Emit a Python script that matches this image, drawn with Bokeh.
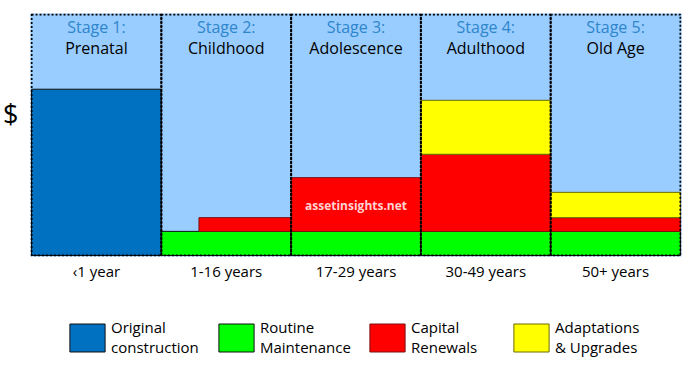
from bokeh.plotting import figure
from bokeh.layouts import column
from bokeh.models import Range1d, FixedTicker, Legend, LegendItem, ColumnDataSource
from bokeh.core.properties import value
from bokeh.embed import file_html
from bokeh.resources import INLINE

# ---- data ----
stage_titles = ["Stage 1:", "Stage 2:", "Stage 3:", "Stage 4:", "Stage 5:"]
stage_names = ["Prenatal", "Childhood", "Adolescence", "Adulthood", "Old Age"]
age_labels = ["\u20391 year", "1-16 years", "17-29 years", "30-49 years", "50+ years"]
original = [69, 0, 0, 0, 0]
routine = [0, 10, 10, 10, 10]
capital = [0, 5.7, 22.3, 32, 5.7]
adaptations = [0, 0, 0, 22.4, 10.5]
capital_start = [0, 0.29, 0, 0, 0]   # fraction of the stage width where the bar begins
y_tick_label = "$"
y_tick_value = 59
watermark = "assetinsights.net"

series_names = ["Original\nconstruction", "Routine\nMaintenance", "Capital\nRenewals", "Adaptations\n& Upgrades"]
fill_colors = ["#0070C0", "#00FF00", "#FF0000", "#FFFF00"]
edge_colors = ["#111111", "#111111", "#7a1010", "#6b6b00"]

n = len(stage_names)
idx = list(range(n))

FONT = "Open Sans"
W = 683
H_MAIN = 300
H_LEG = 73

p = figure(width=W, height=H_MAIN,
           x_range=Range1d(-0.508, n - 0.492), y_range=Range1d(-0.42, 100.42),
           output_backend="svg", toolbar_location=None,
           min_border_left=29, min_border_right=2, min_border_top=13, min_border_bottom=44)
p.background_fill_color = "#99CCFF"
p.outline_line_color = None
p.grid.visible = False

def stack_source(bottoms, heights, starts=None):
    d = dict(left=[], right=[], bottom=[], top=[])
    for i in idx:
        if heights[i] <= 0:
            continue
        s = starts[i] if starts else 0
        d["left"].append(i - 0.5 + s)
        d["right"].append(i + 0.5)
        d["bottom"].append(bottoms[i])
        d["top"].append(bottoms[i] + heights[i])
    return ColumnDataSource(d)

zeros = [0] * n
cap_bottom = [routine[i] for i in idx]
ad_bottom = [routine[i] + capital[i] for i in idx]

sources = []
for k, (bots, hts, st) in enumerate([(zeros, original, None),
                                     (zeros, routine, None),
                                     (cap_bottom, capital, capital_start),
                                     (ad_bottom, adaptations, None)]):
    src = stack_source(bots, hts, st)
    sources.append(src)
    p.quad(left="left", right="right", bottom="bottom", top="top", source=src,
           fill_color=fill_colors[k], line_color=edge_colors[k], line_width=1)

# dotted stage borders
p.quad(left=[i - 0.5 for i in idx], right=[i + 0.5 for i in idx],
       bottom=zeros, top=[100] * n,
       fill_color=None, line_color="black", line_width=2, line_dash="2 2")

# stage titles
p.text(x=idx, y=[100] * n, text=stage_titles, text_font=value(FONT),
       text_font_size=value("16px"), text_color="#2E86CC",
       text_align="center", text_baseline="alphabetic", y_offset=12)
p.text(x=idx, y=[100] * n, text=stage_names, text_font=value(FONT),
       text_font_size=value("16px"), text_color="#000000",
       text_align="center", text_baseline="alphabetic", y_offset=33)

# watermark
p.text(x=[2], y=[20.7], text=[watermark], text_font=value(FONT),
       text_font_size=value("12px"), text_font_style="bold", text_color="#FFD2D2",
       text_align="center", text_baseline="middle")

# axes
p.xaxis.ticker = FixedTicker(ticks=idx)
p.xaxis.major_label_overrides = {i: age_labels[i] for i in idx}
p.xaxis.major_label_text_font = FONT
p.xaxis.major_label_text_font_size = "15px"
p.xaxis.major_label_text_color = "#000000"
p.xaxis.major_label_standoff = 4
p.xaxis.axis_line_color = None
p.xaxis.major_tick_line_color = None
p.xaxis.minor_tick_line_color = None
p.xaxis.major_tick_out = 0
p.xaxis.major_tick_in = 0

p.yaxis.ticker = FixedTicker(ticks=[y_tick_value])
p.yaxis.major_label_overrides = {y_tick_value: y_tick_label}
p.yaxis.major_label_text_font = FONT
p.yaxis.major_label_text_font_size = "27px"
p.yaxis.major_label_text_color = "#000000"
p.yaxis.major_label_standoff = 12
p.yaxis.axis_line_color = None
p.yaxis.major_tick_line_color = None
p.yaxis.minor_tick_line_color = None
p.yaxis.major_tick_out = 0
p.yaxis.major_tick_in = 0

# ---- legend strip (same series sources; view range shows none of the bars) ----
lp = figure(width=W, height=H_LEG, x_range=Range1d(-0.5, n - 0.5), y_range=Range1d(1000, 1001),
            output_backend="svg", toolbar_location=None,
            x_axis_location=None, y_axis_location=None,
            min_border_left=0, min_border_right=0, min_border_top=0, min_border_bottom=0)
lp.grid.visible = False
lp.outline_line_color = None
lp.background_fill_alpha = 0
lp.border_fill_alpha = 0

# legend positions are relative to the strip's frame (aligned with the chart frame)
legend_x = [35, 184, 335, 479]
for k in range(4):
    r = lp.quad(left="left", right="right", bottom="bottom", top="top", source=sources[k],
                fill_color=fill_colors[k], line_color=edge_colors[k], line_width=1)
    lg = Legend(items=[LegendItem(label=series_names[k], renderers=[r])],
                orientation="horizontal", location=(legend_x[k], 16),
                glyph_width=44, glyph_height=35, label_standoff=2, spacing=0,
                padding=0, margin=0, border_line_color=None, background_fill_alpha=0,
                label_text_font=FONT, label_text_font_size="15px", label_text_color="#000000",
                label_text_line_height=1.25)
    lp.add_layout(lg, "center")

layout = column(p, lp, spacing=0)
open("out.html", "w").write(file_html(layout, INLINE))
